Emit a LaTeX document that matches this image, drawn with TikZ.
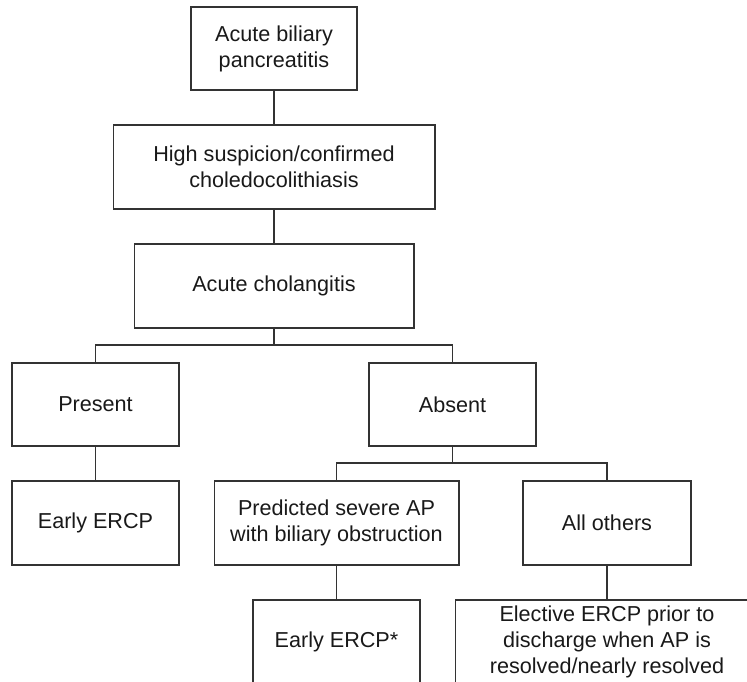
\documentclass[tikz,border=0pt]{standalone}
\usepackage{fontspec}
\setmainfont{Liberation Sans}
\begin{document}
\begin{tikzpicture}[x=0.02cm, y=-0.02cm,
    box/.style={draw=black!80, line width=0.6pt, align=center, inner sep=0pt,
      text=black!90, font=\fontsize{12.3}{14.8}\selectfont},
    link/.style={draw=black!80, line width=0.6pt}]
  \clip (0,0) rectangle (747,681);

  % Boxes
  \node[box, minimum width=3.32cm, minimum height=1.66cm] (apb) at (274,48.5) {Acute biliary\\pancreatitis};
  \node[box, minimum width=6.44cm, minimum height=1.68cm] (susp) at (274,167) {High suspicion/confirmed\\choledocolithiasis};
  \node[box, minimum width=5.6cm, minimum height=1.68cm] (chol) at (274,286) {Acute cholangitis};
  \node[box, minimum width=3.34cm, minimum height=1.66cm] (pres) at (95.5,404.5) {Present};
  \node[box, minimum width=3.34cm, minimum height=1.66cm] (abs) at (452.5,404.5) {Absent};
  \node[box, minimum width=3.34cm, minimum height=1.68cm] (early) at (95.5,523) {Early ERCP};
  \node[box, minimum width=4.9cm, minimum height=1.68cm] (pred) at (336.5,523) {Predicted severe AP\\with biliary obstruction};
  \node[box, minimum width=3.36cm, minimum height=1.68cm] (others) at (607,523) {All others};
  \node[box, minimum width=3.34cm, minimum height=1.68cm] (earlys) at (336.5,642) {Early ERCP*};
  \node[box, minimum width=6.08cm, minimum height=1.68cm] (elect) at (607,642) {Elective ERCP prior to\\discharge when AP is\\resolved/nearly resolved};

  % Junctions
  \coordinate (j1) at (274,345);
  \coordinate (j2) at (452.5,463);

  % Links
  \draw[link] (apb) -- (susp);
  \draw[link] (susp) -- (chol);
  \draw[link] (chol.south) -- (j1);
  \draw[link] (pres.north) |- (j1) -| (abs.north);
  \draw[link] (pres) -- (early);
  \draw[link] (abs.south) -- (j2);
  \draw[link] (pred.north) |- (j2) -| (others.north);
  \draw[link] (pred) -- (earlys);
  \draw[link] (others) -- (elect);
\end{tikzpicture}
\end{document}
